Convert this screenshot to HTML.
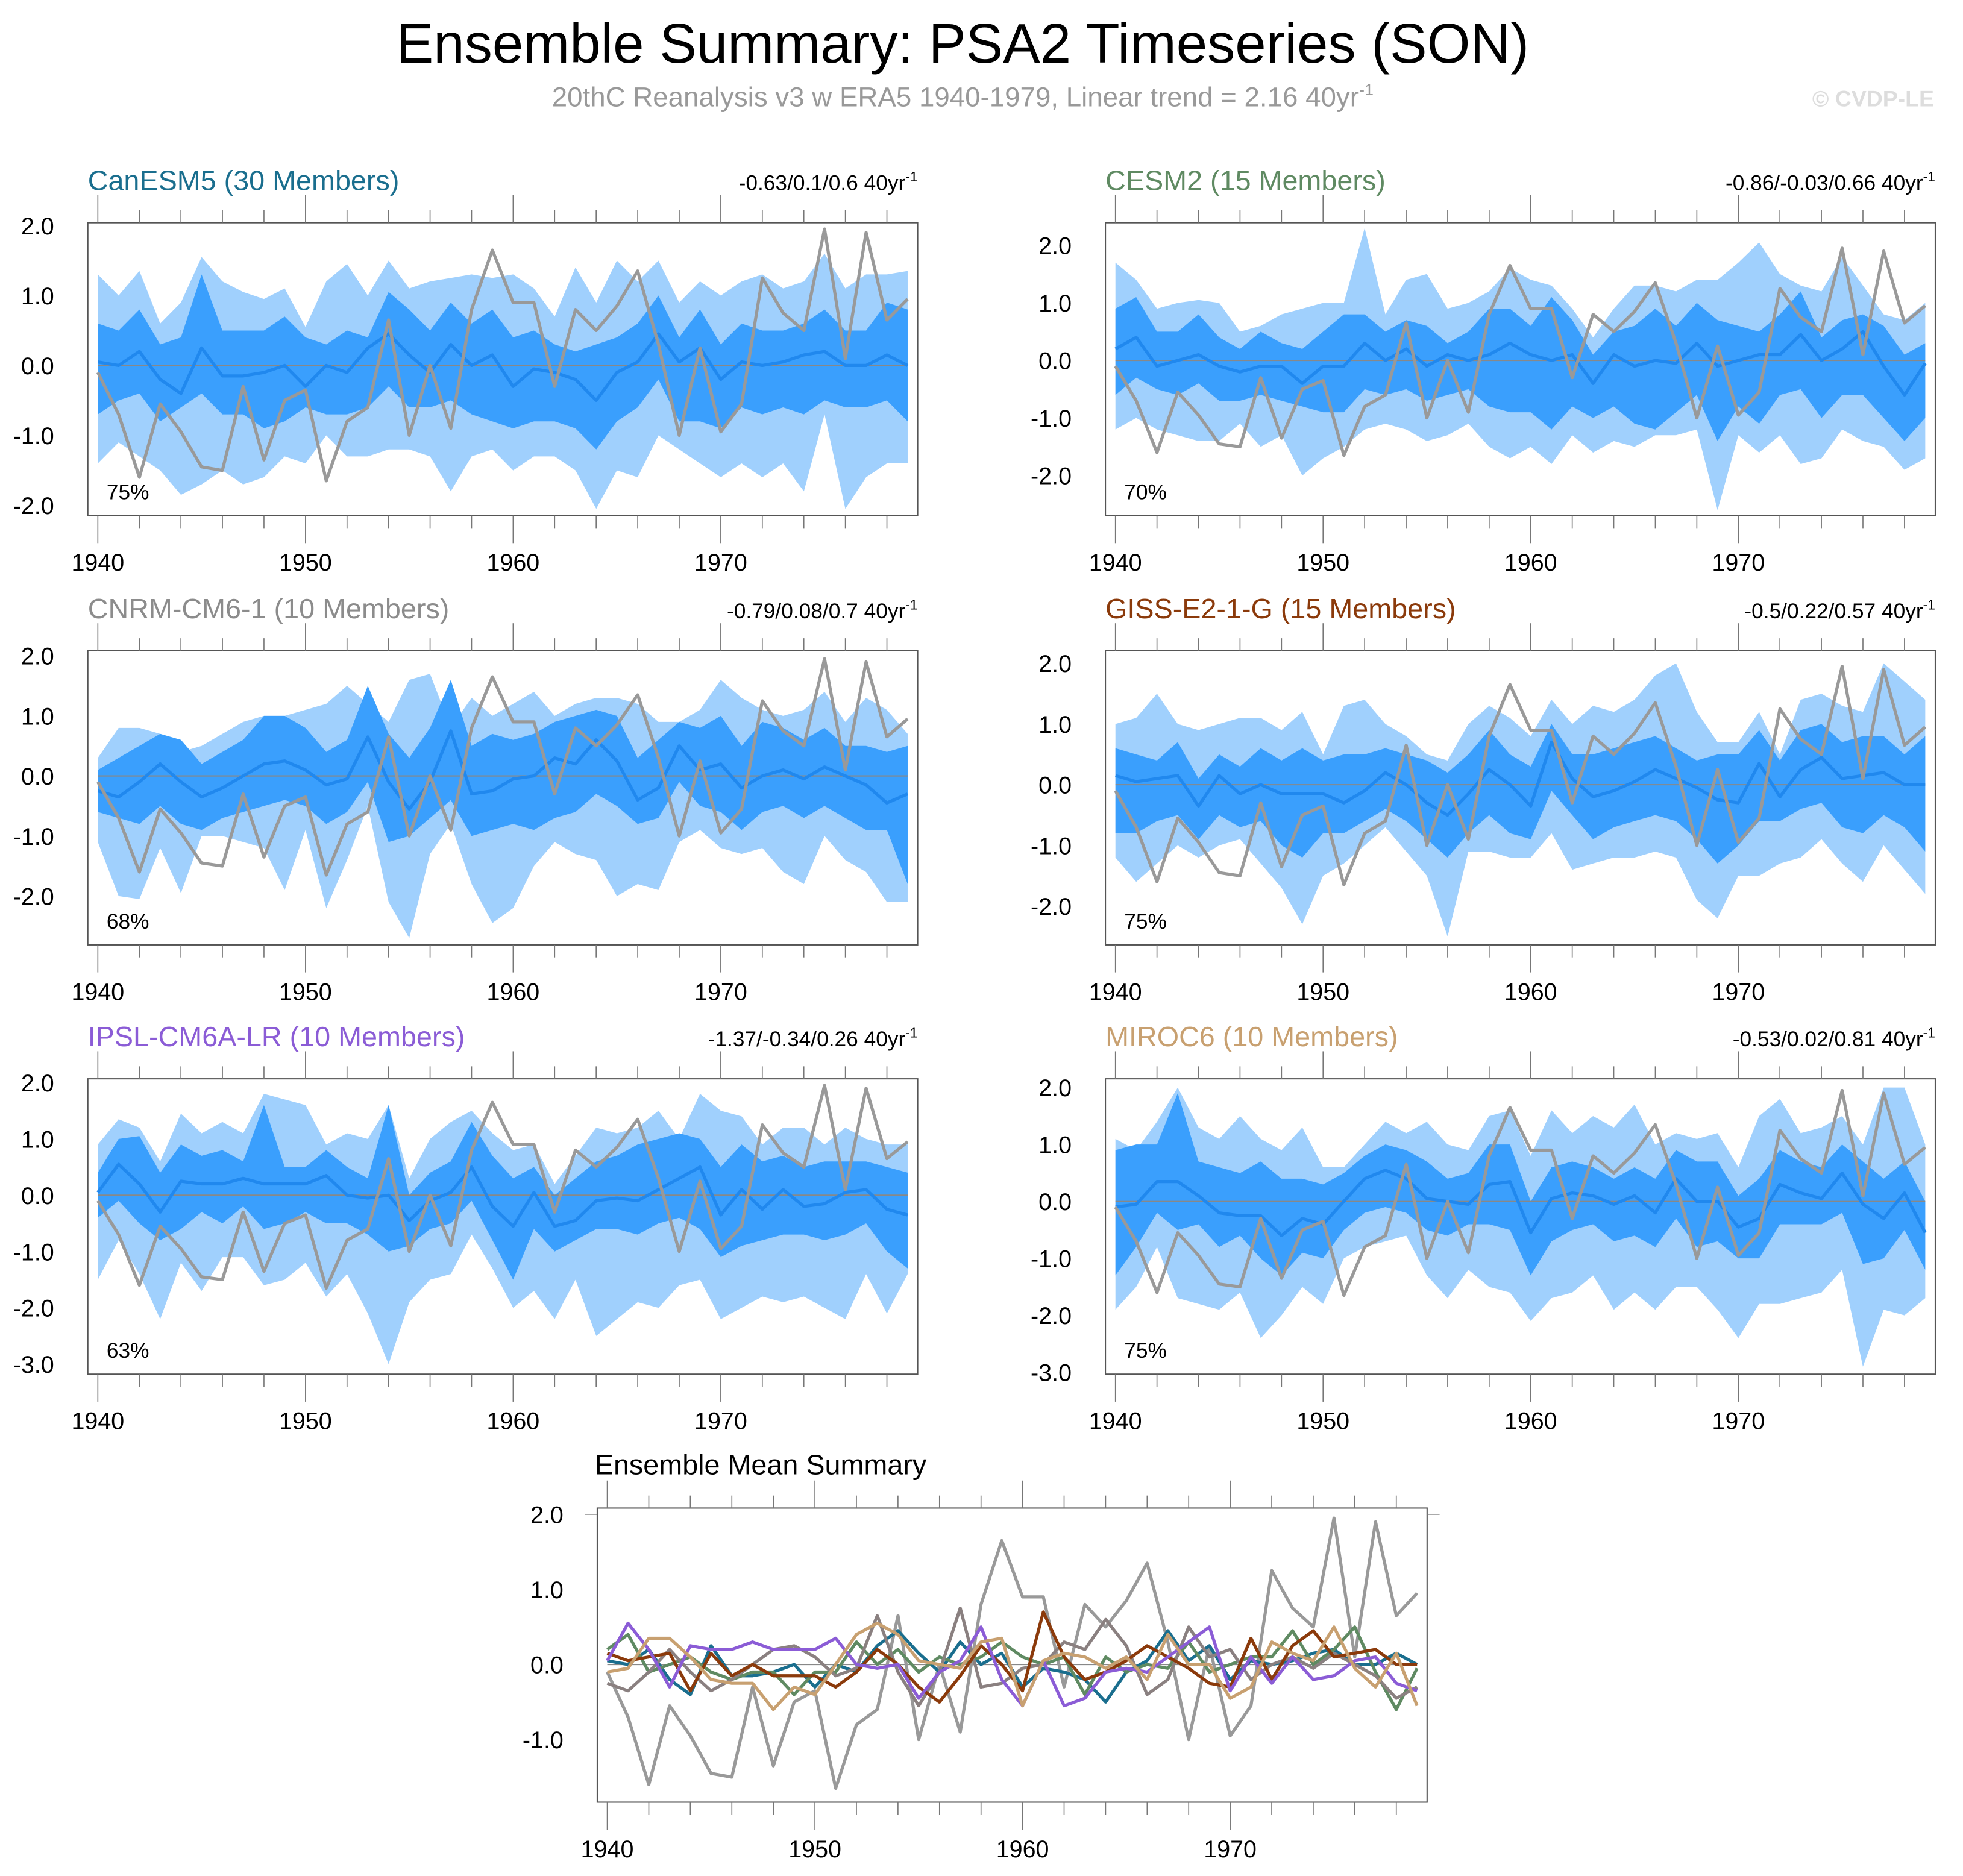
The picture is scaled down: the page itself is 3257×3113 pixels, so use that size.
<!DOCTYPE html>
<html><head><meta charset="utf-8"><style>
html,body{margin:0;padding:0;background:#fff;}
svg{display:block;font-family:"Liberation Sans",sans-serif;}
</style></head><body>
<svg id="fig" width="3257" height="3113" viewBox="0 0 1568 1499" xmlns="http://www.w3.org/2000/svg">
<text x="769" y="50" font-size="44.5" text-anchor="middle" fill="#000">Ensemble Summary: PSA2 Timeseries (SON)</text>
<text x="769" y="85" font-size="22" text-anchor="middle" fill="#999">20thC Reanalysis v3 w ERA5 1940-1979, Linear trend = 2.16 40yr<tspan font-size="13" dy="-9">-1</tspan></text>
<text x="1545" y="85" font-size="18" font-weight="bold" text-anchor="end" fill="#ddd">© CVDP-LE</text>
<text x="475" y="1178" font-size="22.5" fill="#000">Ensemble Mean Summary</text>
</svg>
<script>
const years = Array.from({length:40},(_, i)=>1940+i);
const obs = [-0.1,-0.7,-1.6,-0.55,-0.95,-1.45,-1.5,-0.3,-1.35,-0.5,-0.35,-1.65,-0.8,-0.6,0.65,-1.0,0.0,-0.9,0.8,1.65,0.9,0.9,-0.3,0.8,0.5,0.85,1.35,0.3,-1.0,0.25,-0.95,-0.55,1.25,0.75,0.5,1.95,0.1,1.9,0.65,0.95];
const modelNames = ["CanESM5 (30 Members)","CESM2 (15 Members)","CNRM-CM6-1 (10 Members)","GISS-E2-1-G (15 Members)","IPSL-CM6A-LR (10 Members)","MIROC6 (10 Members)"];
const trendLabels = ["-0.63/0.1/0.6","-0.86/-0.03/0.66","-0.79/0.08/0.7","-0.5/0.22/0.57","-1.37/-0.34/0.26","-0.53/0.02/0.81"];
const pctLabels = ["75%","70%","68%","75%","63%","75%"];
const xTickLabels = ["1940","1950","1960","1970"];

const meanCan = [0.05,0.0,0.2,-0.2,-0.4,0.25,-0.15,-0.15,-0.1,0.0, -0.3,0.0,-0.1,0.25,0.45,0.15,-0.1,0.3,0.0,0.15, -0.3,-0.05,-0.1,-0.2,-0.5,-0.1,0.05,0.45,0.05,0.25, -0.2,0.05,0.0,0.05,0.15,0.2,0.0,0.0,0.15,0.0];
const inHiCan = [0.6,0.5,0.8,0.3,0.4,1.3,0.5,0.5,0.5,0.7, 0.4,0.3,0.5,0.4,1.05,0.8,0.5,0.9,0.6,0.8, 0.4,0.5,0.3,0.2,0.3,0.4,0.6,1.0,0.4,0.8, 0.3,0.6,0.5,0.5,0.6,0.8,0.5,0.5,0.9,0.8];
const inLoCan = [-0.7,-0.5,-0.4,-0.8,-0.6,-0.4,-0.7,-0.7,-0.9,-0.8, -0.6,-0.7,-0.7,-0.6,-0.3,-0.6,-0.6,-0.5,-0.7,-0.8, -0.9,-0.8,-0.8,-0.9,-1.2,-0.8,-0.6,-0.2,-0.8,-0.8, -0.9,-0.6,-0.7,-0.6,-0.7,-0.5,-0.6,-0.6,-0.5,-0.8];
const outHiCan = [1.3,1.0,1.35,0.6,0.9,1.55,1.2,1.05,0.95,1.1, 0.55,1.2,1.45,1.0,1.5,1.1,1.2,1.25,1.3,1.25, 1.3,1.1,0.7,1.4,0.9,1.5,1.2,1.5,0.9,1.2, 1.0,1.2,1.3,1.1,1.2,1.6,1.1,1.3,1.3,1.35];
const outLoCan = [-1.4,-1.1,-1.3,-1.5,-1.85,-1.7,-1.5,-1.7,-1.6,-1.3, -1.4,-1.0,-1.3,-1.3,-1.2,-1.2,-1.3,-1.8,-1.3,-1.2, -1.5,-1.3,-1.3,-1.5,-2.05,-1.5,-1.6,-1.0,-1.2,-1.4, -1.6,-1.4,-1.6,-1.4,-1.8,-0.7,-2.05,-1.6,-1.4,-1.4];

const meanCesm = [0.2,0.4,-0.1,0.0,0.1,-0.1,-0.2,-0.1,-0.1,-0.4, -0.1,-0.1,0.3,0.0,0.2,-0.1,0.1,0.0,0.1,0.3, 0.1,0.0,0.1,-0.4,0.1,-0.1,0.0,-0.05,0.3,-0.1, 0.0,0.1,0.1,0.45,0.0,0.2,0.5,-0.1,-0.6,-0.05];
const inHiCesm = [0.9,1.1,0.5,0.5,0.8,0.4,0.2,0.5,0.3,0.2, 0.5,0.8,0.8,0.5,0.7,0.6,0.3,0.5,0.9,0.9, 0.6,1.1,0.7,0.1,0.5,0.6,0.9,0.6,1.0,0.7, 0.6,0.5,0.8,1.2,0.4,0.7,0.8,0.6,0.1,0.3];
const inLoCesm = [-0.6,-0.3,-0.5,-0.6,-0.4,-0.7,-0.7,-0.6,-0.7,-0.8, -0.9,-0.9,-0.5,-0.6,-0.5,-0.7,-0.6,-0.5,-0.8,-0.9, -0.9,-1.2,-0.8,-1.0,-0.8,-1.1,-1.2,-0.9,-0.6,-1.4, -0.8,-1.1,-0.6,-0.5,-1.0,-0.6,-0.6,-1.0,-1.4,-1.0];
const outHiCesm = [1.7,1.4,0.9,1.0,1.05,1.0,0.5,0.6,0.8,0.9, 1.0,1.0,2.3,0.8,1.4,1.5,0.9,1.0,1.2,1.6, 1.4,1.3,0.9,0.4,0.9,1.3,1.3,1.2,1.4,1.4, 1.7,2.05,1.5,1.3,1.2,1.8,1.3,0.8,0.7,1.0];
const outLoCesm = [-1.2,-1.0,-1.2,-1.3,-1.4,-1.4,-1.1,-1.5,-1.3,-2.0, -1.7,-1.5,-1.2,-1.1,-1.2,-1.4,-1.3,-1.1,-1.5,-1.7, -1.5,-1.8,-1.3,-1.6,-1.4,-1.5,-1.3,-1.3,-1.2,-2.6, -1.3,-1.6,-1.3,-1.8,-1.7,-1.2,-1.4,-1.5,-1.9,-1.7];

const meanCnrm = [-0.25,-0.35,-0.1,0.2,-0.1,-0.35,-0.2,0.0,0.2,0.25, 0.1,-0.15,-0.05,0.65,-0.1,-0.55,-0.1,0.75,-0.3,-0.25, -0.05,0.0,0.3,0.2,0.6,0.25,-0.4,-0.2,0.5,0.1, 0.2,-0.2,0.0,0.1,-0.05,0.15,0.0,-0.15,-0.45,-0.3];
const inHiCnrm = [0.1,0.3,0.5,0.7,0.6,0.2,0.4,0.6,1.0,1.0, 0.8,0.4,0.6,1.5,0.7,0.3,0.8,1.6,0.5,0.7, 0.6,0.7,0.9,1.0,1.1,1.0,0.3,0.6,0.9,0.8, 1.0,0.5,0.9,0.8,0.6,0.8,0.5,0.5,0.4,0.5];
const inLoCnrm = [-0.6,-0.7,-0.8,-0.5,-0.8,-0.9,-0.7,-0.6,-0.5,-0.4, -0.5,-0.8,-0.6,-0.1,-1.1,-1.0,-0.7,-0.4,-1.0,-0.9, -0.8,-0.9,-0.7,-0.6,-0.3,-0.5,-0.8,-0.7,-0.1,-0.5, -0.6,-0.9,-0.6,-0.5,-0.7,-0.5,-0.7,-0.9,-0.9,-1.8];
const outHiCnrm = [0.3,0.8,0.8,0.7,0.4,0.5,0.7,0.9,1.0,1.0, 1.1,1.2,1.5,1.2,0.9,1.6,1.7,0.8,1.3,1.0, 1.2,1.4,1.0,1.2,1.3,1.3,1.2,0.9,0.9,1.1, 1.6,1.3,1.1,1.0,1.1,1.4,0.9,1.3,1.1,0.7];
const outLoCnrm = [-1.1,-2.0,-2.05,-1.2,-1.95,-1.0,-1.0,-1.1,-1.2,-1.9, -0.9,-2.2,-1.4,-0.5,-2.1,-2.7,-1.3,-0.8,-1.8,-2.45, -2.2,-1.5,-1.1,-1.3,-1.4,-2.0,-1.8,-1.9,-1.1,-0.9, -1.2,-1.3,-1.2,-1.6,-1.8,-1.0,-1.4,-1.6,-2.1,-2.1];

const meanGiss = [0.15,0.05,0.1,0.15,-0.35,0.15,-0.15,0.0,-0.15,-0.15, -0.15,-0.3,-0.1,0.2,0.0,-0.3,-0.5,-0.15,0.25,0.0, -0.35,0.7,0.1,-0.2,-0.1,0.05,0.25,0.1,-0.05,-0.25, -0.3,0.35,-0.2,0.25,0.45,0.1,0.15,0.2,0.0,0.0];
const inHiGiss = [0.6,0.5,0.4,0.7,0.1,0.5,0.3,0.6,0.4,0.6, 0.4,0.5,0.5,0.6,0.5,0.4,0.2,0.5,0.9,0.5, 0.3,1.0,0.5,0.5,0.6,0.7,0.8,0.6,0.4,0.5, 0.5,0.9,0.4,0.9,1.0,0.7,0.8,0.8,0.5,0.8];
const inLoGiss = [-0.8,-0.8,-0.6,-0.5,-0.9,-0.5,-0.7,-0.6,-1.0,-1.2, -0.8,-0.8,-0.6,-0.4,-0.6,-0.9,-1.2,-0.8,-0.5,-0.8, -0.9,-0.1,-0.5,-0.9,-0.7,-0.6,-0.5,-0.6,-0.9,-1.3, -1.0,-0.6,-0.6,-0.4,-0.3,-0.7,-0.8,-0.5,-0.7,-1.1];
const outHiGiss = [1.0,1.1,1.5,1.0,0.9,1.0,1.1,1.1,0.9,1.2, 0.5,1.3,1.4,1.0,0.8,0.5,0.4,1.0,1.3,1.1, 0.8,1.4,1.0,1.3,1.2,1.4,1.8,2.0,1.2,0.7, 0.7,1.2,0.5,1.4,1.5,1.3,1.2,2.0,1.7,1.4];
const outLoGiss = [-1.2,-1.6,-1.3,-1.0,-1.2,-1.0,-0.9,-1.3,-1.7,-2.3, -1.5,-1.3,-1.0,-0.7,-1.1,-1.5,-2.5,-1.1,-1.1,-1.2, -1.2,-0.8,-1.4,-1.3,-1.2,-1.2,-1.1,-1.2,-1.9,-2.2, -1.5,-1.5,-1.3,-1.2,-0.9,-1.3,-1.6,-1.0,-1.4,-1.8];

const meanIpsl = [0.05,0.55,0.2,-0.3,0.25,0.2,0.2,0.3,0.2,0.2, 0.2,0.35,0.0,-0.05,0.0,-0.45,-0.1,0.05,0.5,-0.2, -0.55,0.05,-0.55,-0.45,-0.1,-0.05,-0.1,0.1,0.3,0.5, -0.35,0.1,-0.25,0.1,-0.2,-0.15,0.05,0.1,-0.25,-0.35];
const inHiIpsl = [0.4,1.0,1.05,0.4,0.9,0.7,0.8,0.6,1.6,0.5, 0.5,0.8,0.5,0.3,1.6,0.0,0.4,0.6,1.3,0.7, 0.3,0.5,0.0,0.3,0.6,0.7,0.9,1.0,1.1,1.0, 0.5,0.9,0.6,0.7,0.5,0.6,0.6,0.6,0.5,0.4];
const inLoIpsl = [-0.4,-0.1,-0.5,-0.8,-0.6,-0.3,-0.5,-0.2,-0.6,-0.5, -0.3,-0.5,-0.5,-0.7,-1.0,-0.9,-0.6,-0.5,-0.1,-0.8, -1.5,-0.6,-1.0,-0.8,-0.6,-0.6,-0.7,-0.5,-0.4,-0.6, -1.1,-0.9,-0.8,-0.7,-0.7,-0.8,-0.7,-0.5,-1.0,-1.3];
const outHiIpsl = [0.9,1.35,1.2,0.6,1.45,1.1,1.3,1.1,1.8,1.7, 1.6,0.9,1.1,1.0,1.6,0.3,1.0,1.3,1.5,1.1, 0.8,0.9,0.2,0.7,1.2,1.1,1.2,1.5,1.0,1.8, 1.5,1.4,0.9,1.2,1.2,0.9,1.2,1.0,0.9,0.9];
const outLoIpsl = [-1.5,-0.8,-1.4,-2.2,-1.2,-1.7,-1.1,-1.1,-1.6,-1.5, -1.2,-1.8,-1.4,-2.1,-3.0,-1.9,-1.5,-1.4,-0.7,-1.3, -2.0,-1.7,-2.2,-1.5,-2.5,-2.2,-1.9,-2.0,-1.6,-1.5, -2.2,-2.0,-1.8,-1.9,-1.8,-2.0,-2.2,-1.4,-2.1,-1.4];

const meanMiroc = [-0.1,-0.05,0.35,0.35,0.1,-0.2,-0.25,-0.25,-0.6,-0.3, -0.4,0.0,0.4,0.55,0.4,0.05,0.0,-0.05,0.3,0.35, -0.55,0.05,0.15,0.1,-0.05,0.1,-0.2,0.4,0.0,0.0, -0.45,-0.3,0.3,0.15,0.05,0.5,-0.05,-0.3,0.15,-0.55];
const inHiMiroc = [0.9,1.0,1.0,1.9,0.7,0.6,0.5,0.7,0.4,0.4, 0.3,0.5,0.8,1.0,0.9,0.7,0.4,0.5,1.0,1.0, 0.0,0.6,0.7,0.6,0.4,0.6,0.4,0.9,0.7,0.7, 0.1,0.4,0.9,0.7,0.6,1.0,0.7,0.4,0.7,0.0];
const inLoMiroc = [-1.3,-0.8,-0.2,-0.5,-0.4,-0.8,-0.6,-1.0,-1.3,-0.9, -1.0,-0.5,-0.2,-0.1,-0.2,-0.5,-0.6,-0.4,-0.4,-0.5, -1.3,-0.7,-0.5,-0.4,-0.7,-0.6,-0.8,-0.3,-0.8,-0.7, -1.0,-1.0,-0.4,-0.4,-0.4,-0.2,-1.1,-1.0,-0.5,-1.2];
const outHiMiroc = [1.1,0.9,1.4,2.0,1.3,1.1,1.5,1.1,0.9,1.3, 0.6,0.6,1.0,1.4,1.2,1.4,1.0,0.9,1.5,1.6, 0.8,1.6,1.2,1.5,1.3,1.7,1.0,1.2,1.1,1.2, 0.6,1.5,1.8,1.2,1.3,1.5,1.0,2.0,2.0,1.0];
const outLoMiroc = [-1.9,-1.5,-0.8,-1.7,-1.8,-1.9,-1.6,-2.4,-2.0,-1.5, -1.8,-1.0,-0.8,-0.7,-0.6,-1.3,-1.7,-1.2,-1.5,-1.6, -2.1,-1.7,-1.6,-1.3,-1.9,-1.6,-1.9,-1.5,-1.5,-1.9, -2.4,-1.8,-1.8,-1.7,-1.6,-1.2,-2.9,-1.9,-2.0,-1.7];

const svg = document.getElementById('fig');
const NS = 'http://www.w3.org/2000/svg';
function mk(tag, attrs, parent){ const e=document.createElementNS(NS,tag); for(const k in attrs) e.setAttribute(k,attrs[k]); (parent||svg).appendChild(e); return e; }

const models = [
 {mean:meanCan,inHi:inHiCan,inLo:inLoCan,outHi:outHiCan,outLo:outLoCan,color:'#1a6e8e',line:'#1a6e8e'},
 {mean:meanCesm,inHi:inHiCesm,inLo:inLoCesm,outHi:outHiCesm,outLo:outLoCesm,color:'#5f8a62',line:'#5f8a62'},
 {mean:meanCnrm,inHi:inHiCnrm,inLo:inLoCnrm,outHi:outHiCnrm,outLo:outLoCnrm,color:'#8c8c8c',line:'#8a8080'},
 {mean:meanGiss,inHi:inHiGiss,inLo:inLoGiss,outHi:outHiGiss,outLo:outLoGiss,color:'#8b3a0b',line:'#8b3a0b'},
 {mean:meanIpsl,inHi:inHiIpsl,inLo:inLoIpsl,outHi:outHiIpsl,outLo:outLoIpsl,color:'#8b5cd6',line:'#8b5cd6'},
 {mean:meanMiroc,inHi:inHiMiroc,inLo:inLoMiroc,outHi:outHiMiroc,outLo:outLoMiroc,color:'#c8a070',line:'#c8a070'}
];
const layouts = [
 {x0:70,x1:733,y0:178,y1:412,zero:292,k:55.9,yt:[2,1,0,-1,-2]},
 {x0:883,x1:1546,y0:178,y1:412,zero:288,k:46,yt:[2,1,0,-1,-2]},
 {x0:70,x1:733,y0:520,y1:755,zero:620,k:48,yt:[2,1,0,-1,-2]},
 {x0:883,x1:1546,y0:520,y1:755,zero:627,k:48.5,yt:[2,1,0,-1,-2]},
 {x0:70,x1:733,y0:862,y1:1098,zero:955,k:45,yt:[2,1,0,-1,-2,-3]},
 {x0:883,x1:1546,y0:862,y1:1098,zero:960,k:45.5,yt:[2,1,0,-1,-2,-3]}
];

function frame(L, g, xs, ys){
  const box=mk('rect',{x:L.x0,y:L.y0,width:L.x1-L.x0,height:L.y1-L.y0,fill:'none',stroke:'#555','stroke-width':1},g);
  
  
  for(let yr=1940; yr<=1978; yr+=2){
    const major = (yr%10===0);
    const len = major?22:10;
    const x = xs(yr);
    mk('line',{x1:x,x2:x,y1:L.y1,y2:L.y1+len,stroke:'#777','stroke-width':0.8},g);
    mk('line',{x1:x,x2:x,y1:L.y0,y2:L.y0-len,stroke:'#777','stroke-width':0.8},g);
  }
  xTickLabels.forEach(t=>{
    const tx=mk('text',{x:xs(+t),y:L.y1+44,'font-size':19,'text-anchor':'middle',fill:'#000'},g);
    
    
    tx.textContent=t;
  });
  const vmin=(L.zero-L.y1)/-L.k, vmax=(L.zero-L.y0)/L.k;
  for(let v=Math.ceil(vmin*5)/5; v<=vmax+1e-9; v+=0.2){
    const vv=Math.round(v*10)/10;
    const major=Math.abs(vv-Math.round(vv))<1e-6;
    const len=major?10:6;
    const y=ys(vv);
    mk('line',{x1:L.x0,x2:L.x0-len,y1:y,y2:y,stroke:'#777','stroke-width':0.8},g);
    mk('line',{x1:L.x1,x2:L.x1+len,y1:y,y2:y,stroke:'#777','stroke-width':0.8},g);
  }
  L.yt.forEach(v=>{
    const tx=mk('text',{x:L.x0-27,y:ys(v)+7,'font-size':19,'text-anchor':'end',fill:'#000'},g);
    
    
    tx.textContent=v.toFixed(1);
  });
}
function linePath(arr, xs, ys){ return arr.map((v,i)=>(i?'L':'M')+xs(years[i]).toFixed(1)+','+ys(v).toFixed(1)).join(''); }
function bandPath(hi, lo, xs, ys){
  let d = hi.map((v,i)=>(i?'L':'M')+xs(years[i]).toFixed(1)+','+ys(v).toFixed(1)).join('');
  for(let i=lo.length-1;i>=0;i--) d+='L'+xs(years[i]).toFixed(1)+','+ys(lo[i]).toFixed(1);
  return d+'Z';
}

models.forEach((m,idx)=>{
  const L=layouts[idx];
  const g=mk('g',{});
  
  
  const xs = yr => L.x0+8+(yr-1940)*(L.x1-L.x0-16)/39;
  const ys = v => L.zero - v*L.k;
  const ob=mk('path',{d:bandPath(m.outHi,m.outLo,xs,ys),fill:'#a0d0fd'},g);
  
  
  const ib=mk('path',{d:bandPath(m.inHi,m.inLo,xs,ys),fill:'#3a9ffd'},g);
  
  
  mk('line',{x1:L.x0+8,x2:L.x1-8,y1:ys(0),y2:ys(0),stroke:'#888','stroke-width':1},g);
  const ml=mk('path',{d:linePath(m.mean,xs,ys),fill:'none',stroke:'#2088ee','stroke-width':2.5,'stroke-linejoin':'round'},g);
  
  
  const ol=mk('path',{d:linePath(obs,xs,ys),fill:'none',stroke:'#999','stroke-width':2.5,'stroke-linejoin':'round'},g);
  
  
  frame(L,g,xs,ys);
  const t=mk('text',{x:L.x0,y:L.y0-26,'font-size':22.5,fill:m.color},g);
  
  
  t.textContent=modelNames[idx];
  const tr=mk('text',{x:L.x1,y:L.y0-26,'font-size':17,'text-anchor':'end',fill:'#000'},g);
  
  
  tr.innerHTML=trendLabels[idx]+' 40yr<tspan font-size="11" dy="-7">-1</tspan>';
  const pc=mk('text',{x:L.x0+15,y:L.y1-13,'font-size':17,fill:'#000'},g);
  
  
  pc.textContent=pctLabels[idx];
});

(function(){
  const L={x0:477,x1:1140,y0:1205,y1:1440,zero:1330,k:60,yt:[2,1,0,-1]};
  const g=mk('g',{});
  
  
  const xs = yr => L.x0+8+(yr-1940)*(L.x1-L.x0-16)/39;
  const ys = v => L.zero - v*L.k;
  mk('line',{x1:L.x0+8,x2:L.x1-8,y1:ys(0),y2:ys(0),stroke:'#888','stroke-width':1},g);
  const ol=mk('path',{d:linePath(obs,xs,ys),fill:'none',stroke:'#999','stroke-width':2.5,'stroke-linejoin':'round'},g);
  
  
  models.forEach((m,idx)=>{
    const p=mk('path',{d:linePath(m.mean,xs,ys),fill:'none',stroke:m.line,'stroke-width':2.5,'stroke-linejoin':'round'},g);
    
    
  });
  frame(L,g,xs,ys);
})();
</script>
</body></html>
